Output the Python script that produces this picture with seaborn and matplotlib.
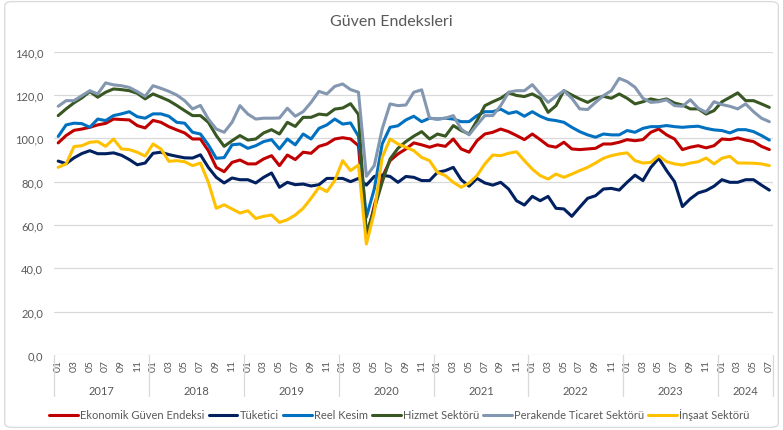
import numpy as np
import pandas as pd
import matplotlib
matplotlib.use("Agg")
import matplotlib.pyplot as plt
import matplotlib.transforms as mtransforms
from matplotlib.patches import FancyBboxPatch
import seaborn as sns

# Monthly indices, 2017-01 .. 2024-07
years = [2017, 2018, 2019, 2020, 2021, 2022, 2023, 2024]
months_per_year = [12, 12, 12, 12, 12, 12, 12, 7]

ekonomik = [97.9, 101.3, 103.7, 104.3, 105.1, 106.2, 106.9, 108.9, 108.7, 108.5, 105.9, 104.8,
            108.3, 107.4, 105.4, 103.9, 102.5, 99.7, 99.7, 94.3, 86.6, 84.6, 88.9, 90.0,
            88.2, 88.2, 90.5, 92.0, 87.4, 92.3, 90.2, 93.6, 93.1, 96.3, 97.4, 99.7,
            100.3, 99.7, 96.6, 53.5, 68.9, 82.0, 89.7, 92.8, 95.1, 97.9, 97.0, 95.9,
            97.0, 96.3, 99.7, 95.1, 93.6, 98.9, 102.0, 102.8, 104.3, 103.1, 101.3, 99.4,
            102.0, 99.4, 96.6, 95.9, 98.2, 95.1, 94.8, 95.1, 95.4, 97.4, 97.4, 98.2,
            99.4, 98.9, 99.4, 102.8, 104.3, 101.6, 99.7, 94.8, 95.9, 96.6, 95.6, 96.6,
            99.7, 99.4, 100.2, 99.2, 98.5, 96.3, 94.8]
tuketici = [89.5, 88.3, 91.0, 93.0, 94.3, 92.9, 92.9, 93.3, 92.2, 90.2, 87.8, 88.6,
            93.1, 93.6, 92.5, 91.7, 91.0, 90.9, 92.4, 86.6, 82.0, 79.4, 81.7, 80.9,
            80.9, 79.4, 82.0, 84.0, 77.4, 79.7, 78.6, 78.9, 78.0, 78.6, 81.5, 81.5,
            81.5, 80.0, 81.5, 78.4, 82.4, 83.0, 82.4, 79.7, 82.4, 82.0, 80.5, 80.5,
            84.3, 85.1, 86.6, 80.9, 77.9, 81.5, 79.4, 78.4, 79.7, 76.6, 71.2, 69.2,
            73.2, 71.2, 73.2, 67.7, 67.4, 64.0, 68.2, 72.3, 73.5, 76.6, 76.9, 76.1,
            79.7, 83.0, 80.5, 86.6, 90.8, 85.1, 80.0, 68.5, 72.1, 74.8, 75.9, 77.9,
            80.9, 79.7, 79.7, 80.9, 80.9, 78.4, 76.1]
reel = [100.9, 106.2, 107.0, 106.8, 105.1, 108.9, 108.2, 110.5, 111.3, 112.3, 110.0, 109.3,
        111.3, 111.3, 110.2, 107.4, 107.0, 102.8, 102.0, 97.0, 90.8, 91.1, 97.0, 97.4,
        95.4, 96.6, 98.5, 99.4, 95.1, 99.7, 97.0, 102.0, 99.7, 104.6, 106.2, 108.9,
        106.6, 107.1, 101.0, 63.6, 76.6, 97.4, 105.1, 105.8, 108.5, 110.2, 107.7, 109.3,
        108.9, 109.3, 108.9, 107.7, 107.7, 110.5, 112.3, 112.3, 113.5, 111.5, 112.3, 110.2,
        112.3, 110.2, 108.7, 108.2, 107.4, 105.1, 103.1, 101.6, 100.5, 102.0, 101.6, 101.6,
        103.6, 102.8, 104.6, 105.4, 105.4, 105.9, 105.4, 105.1, 105.4, 105.6, 104.6, 103.9,
        103.6, 102.5, 104.0, 104.0, 103.1, 101.3, 99.2]
hizmet = [110.5, 113.6, 116.4, 118.7, 121.6, 119.0, 121.3, 122.8, 122.5, 122.0, 120.8, 118.2,
          120.5, 119.0, 117.4, 115.2, 112.8, 110.5, 110.5, 107.4, 101.3, 96.3, 98.9, 101.3,
          99.2, 99.7, 102.5, 104.0, 102.0, 107.4, 105.5, 109.7, 109.7, 111.2, 110.8, 113.5,
          114.0, 116.0, 111.0, 56.0, 67.4, 79.7, 90.5, 95.4, 98.5, 101.0, 103.1, 99.7,
          102.0, 101.0, 105.9, 103.6, 102.0, 108.2, 115.1, 116.9, 118.5, 121.0, 119.8, 119.3,
          120.5, 118.5, 112.0, 115.1, 122.0, 120.0, 118.2, 116.6, 118.5, 119.4, 118.5, 120.5,
          118.5, 115.9, 116.9, 118.2, 117.4, 118.2, 116.3, 115.4, 113.6, 113.6, 111.2, 112.8,
          116.9, 118.9, 121.0, 117.4, 117.4, 115.9, 114.3]
perakende = [114.8, 117.4, 117.4, 119.7, 122.0, 120.5, 125.6, 124.7, 124.3, 123.5, 121.6, 119.4,
             124.3, 123.1, 121.7, 120.0, 117.4, 113.6, 115.2, 108.9, 104.3, 102.8, 107.4, 115.1,
             111.2, 108.9, 109.3, 109.3, 109.4, 113.9, 110.2, 112.3, 116.6, 121.7, 120.5, 124.0,
             125.1, 122.5, 121.3, 82.5, 87.4, 104.3, 115.9, 115.1, 115.4, 121.3, 122.4, 109.3,
             108.9, 109.3, 110.5, 104.3, 101.6, 106.2, 110.5, 110.5, 115.1, 121.3, 122.0, 122.0,
             124.8, 120.5, 116.6, 119.4, 122.0, 118.5, 113.6, 113.3, 116.6, 119.7, 122.0, 127.7,
             126.2, 123.6, 118.5, 116.6, 116.9, 117.8, 115.1, 114.8, 117.8, 113.9, 112.0, 116.9,
             115.6, 114.8, 113.6, 115.9, 112.3, 109.3, 107.7]
insaat = [86.6, 88.2, 96.2, 96.6, 98.2, 98.5, 96.3, 99.7, 95.1, 94.8, 93.6, 91.8,
          97.4, 95.1, 89.4, 89.7, 89.2, 87.4, 88.6, 79.7, 67.7, 69.3, 67.4, 65.5,
          66.6, 63.0, 64.0, 64.6, 61.2, 62.4, 64.6, 67.7, 72.3, 77.4, 75.4, 80.5,
          89.7, 85.1, 87.7, 51.2, 65.8, 91.2, 99.7, 97.4, 95.9, 94.3, 91.2, 89.7,
          84.3, 82.8, 79.7, 77.4, 79.4, 82.8, 88.2, 92.3, 92.0, 93.1, 93.8, 89.7,
          85.8, 82.8, 81.2, 83.5, 82.0, 83.5, 85.1, 86.6, 88.6, 90.8, 92.0, 92.8,
          93.3, 89.7, 88.6, 88.9, 92.0, 89.2, 88.2, 87.7, 88.6, 89.2, 90.9, 88.2,
          90.8, 91.7, 88.6, 88.6, 88.5, 88.2, 87.4]

series_names = ["Ekonomik Güven Endeksi", "Tüketici", "Reel Kesim",
                "Hizmet Sektörü", "Perakende Ticaret Sektörü", "İnşaat Sektörü"]
series_values = [ekonomik, tuketici, reel, hizmet, perakende, insaat]
colors = ["#C00000", "#002060", "#0070C0", "#385723", "#8497B0", "#FFC000"]

sns.set_theme(style="white")
plt.rcParams['font.family'] = ['Lato', 'DejaVu Sans']
text_color = "#595959"

n = sum(months_per_year)
frames = []
for name, vals in zip(series_names, series_values):
    frames.append(pd.DataFrame({"t": np.arange(n), "value": vals, "series": name}))
df = pd.concat(frames, ignore_index=True)

fig = plt.figure(figsize=(7.83, 4.31), dpi=100)
ax = fig.add_axes([0.0693, 0.1742, 0.9183, 0.7035])

sns.lineplot(data=df, x="t", y="value", hue="series", hue_order=series_names,
             palette=colors, linewidth=2.2, ax=ax, legend=True)

ax.set_xlim(-0.5, n - 0.5)
ax.set_ylim(0, 140)
ax.set_yticks(np.arange(0, 141, 20))
ax.set_yticklabels([f"{v:.1f}".replace(".", ",") for v in np.arange(0, 141, 20)],
                   fontsize=8, color=text_color)
ax.yaxis.grid(True, color="#d9d9d9", linewidth=0.9)
ax.xaxis.grid(False)
for s in ax.spines.values():
    s.set_visible(False)
ax.tick_params(axis="y", length=0, pad=8)
ax.set_xlabel("")
ax.set_ylabel("")

# month labels (odd months) and year groups
tick_pos, tick_lab = [], []
start = 0
for yr, cnt in zip(years, months_per_year):
    for m in range(0, cnt, 2):
        tick_pos.append(start + m)
        tick_lab.append(f"{m + 1:02d}")
    start += cnt
ax.set_xticks(tick_pos)
ax.set_xticklabels(tick_lab, rotation=90, fontsize=7.5, color=text_color)
ax.tick_params(axis="x", length=0, pad=3)

trans = mtransforms.blended_transform_factory(ax.transData, ax.transAxes)
start = 0
bounds = [-0.5]
for yr, cnt in zip(years, months_per_year):
    ax.text(start + (cnt - 1) / 2, -0.118, str(yr), transform=trans, ha="center",
            va="center", fontsize=8, color=text_color)
    start += cnt
    bounds.append(start - 0.5)
for b in bounds:
    ax.plot([b, b], [0, -0.136], transform=trans, color="#d9d9d9", lw=0.9, clip_on=False)

ax.get_legend().remove()
handles, labels = ax.get_legend_handles_labels()
fig.legend(handles, labels, loc="center", bbox_to_anchor=(0.51, 0.036), ncol=6,
           frameon=False, fontsize=8, handlelength=2.6, handletextpad=0.2,
           columnspacing=0.35, labelcolor=text_color)

fig.text(0.5, 0.949, "Güven Endeksleri", ha="center", va="center", fontsize=11.5,
         color=text_color)

fig.patches.append(FancyBboxPatch((0.006, 0.006), 0.988, 0.988, boxstyle="round,pad=0,rounding_size=0.01",
                                  transform=fig.transFigure, fill=False,
                                  edgecolor="#d9d9d9", linewidth=0.9))

fig.savefig("out.png", dpi=100)
